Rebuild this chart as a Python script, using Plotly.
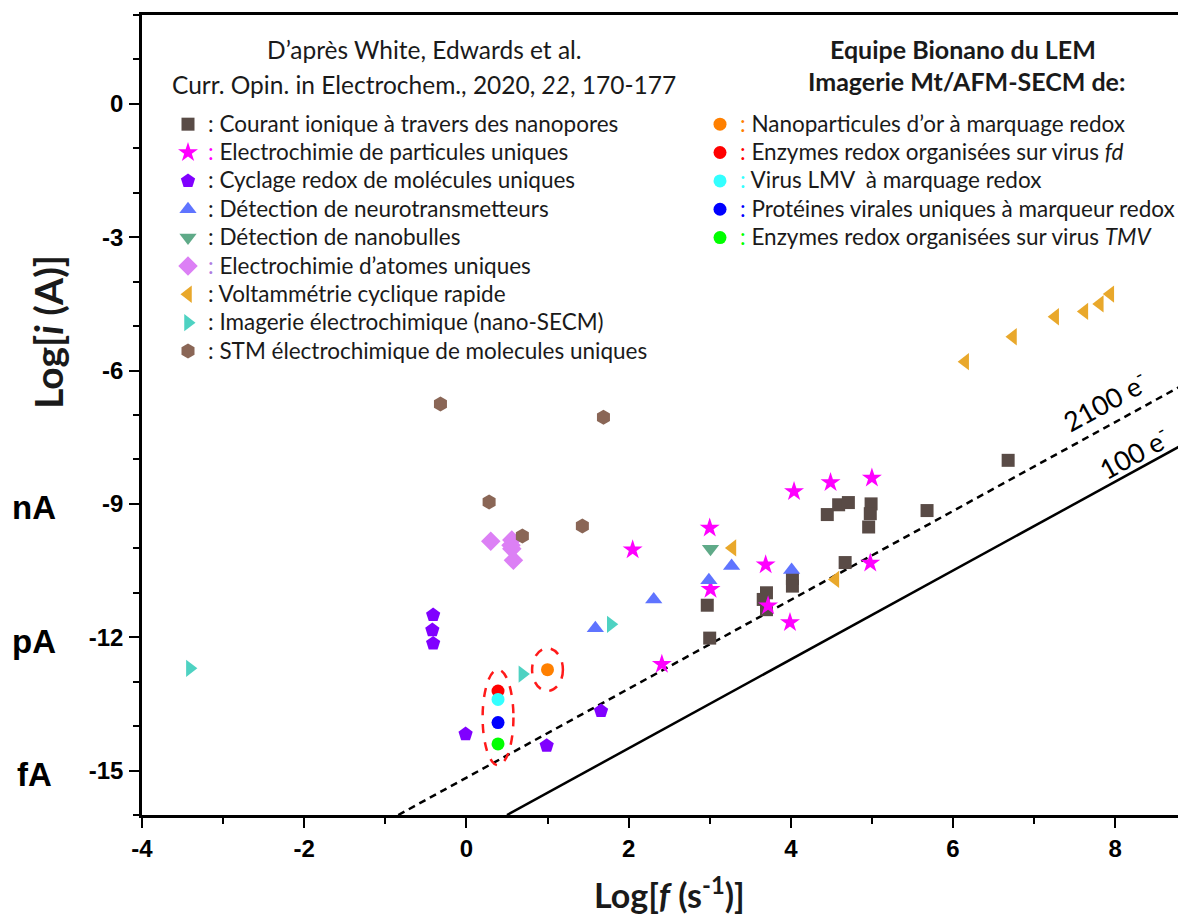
import plotly.graph_objects as go

# Données : x = Log[f (s-1)], y = Log[i (A)]
nanopores_x = [2.97, 3.00, 3.66, 3.70, 3.70, 4.02, 4.02, 4.45, 4.59, 4.71, 4.99, 4.98, 4.96, 4.67, 5.68, 6.68]
nanopores_y = [-11.28, -12.02, -11.15, -11.00, -11.38, -10.68, -10.85, -9.24, -9.02, -8.97, -9.00, -9.22, -9.52, -10.32, -9.15, -8.02]

particules_x = [2.05, 3.00, 3.01, 2.41, 3.69, 3.72, 3.99, 4.04, 4.49, 5.00, 4.98]
particules_y = [-10.03, -9.54, -10.92, -12.61, -10.37, -11.29, -11.67, -8.72, -8.52, -8.42, -10.33]

cyclage_x = [-0.41, -0.42, -0.41, -0.01, 0.99, 1.66]
cyclage_y = [-11.50, -11.84, -12.14, -14.18, -14.44, -13.66]

neuro_x = [1.59, 2.31, 2.99, 3.27, 4.01]
neuro_y = [-11.80, -11.15, -10.72, -10.40, -10.49]

nanobulles_x = [3.01]
nanobulles_y = [-10.01]

atomes_x = [0.30, 0.56, 0.55, 0.56, 0.58]
atomes_y = [-9.84, -9.81, -9.93, -10.01, -10.27]

voltam_x = [3.28, 4.55, 6.15, 6.74, 7.26, 7.62, 7.81, 7.94]
voltam_y = [-9.99, -10.70, -5.80, -5.24, -4.79, -4.67, -4.50, -4.28]

secm_x = [-3.41, 0.69, 1.78]
secm_y = [-12.70, -12.83, -11.71]

stm_x = [-0.32, 0.28, 0.69, 1.69, 1.43]
stm_y = [-6.75, -8.96, -9.72, -7.05, -9.50]

# Equipe Bionano du LEM
or_x, or_y = [1.00], [-12.73]
fd_x, fd_y = [0.39], [-13.21]
lmv_x, lmv_y = [0.39], [-13.40]
prot_x, prot_y = [0.39], [-13.92]
tmv_x, tmv_y = [0.39], [-14.40]

# droites i = n.e.f (ordonnées à l'origine)
droites_nom = ["2100 e<sup>-</sup>", "100 e<sup>-</sup>"]
droites_b = [-15.16, -16.50]

# graduations
x_ticks = [-4, -2, 0, 2, 4, 6, 8]
x_labels = ["-4", "-2", "0", "2", "4", "6", "8"]
y_ticks = [0, -3, -6, -9, -12, -15]
y_labels = ["0", "-3", "-6", "-9", "-12", "-15"]
unites = ["nA", "pA", "fA"]
unites_y = [-9, -12, -15]

X_RANGE = [-4, 8.873]
Y_RANGE = [-16, 2]

TXT = "#1a1a1a"
FONT_TXT = "Lato"

# la page html ajoute 8 px de marge : on les retire de la figure
OFF = 8
L, T, B = 142 - OFF, 15 - OFF, 104


def px_x(p):
    return (p - 142) / 1044


def px_y(p):
    return (815 - p) / 800


fig = go.Figure()

# droites
for nom, b, dash in zip(droites_nom, droites_b, ["7px,5px", "solid"]):
    x0 = Y_RANGE[0] - b
    fig.add_trace(go.Scatter(
        x=[x0, X_RANGE[1]], y=[x0 + b, X_RANGE[1] + b],
        mode="lines", line=dict(color="black", width=2.5, dash=dash),
        showlegend=False, hoverinfo="skip"))


def entry(c, txt):
    return ('<span style="font-size:22.5px"><span style="color:%s">:</span> %s</span>' % (c, txt))


white_series = [
    (nanopores_x, nanopores_y, "square", "#594b46", 13, TXT, "Courant ionique à travers des nanopores"),
    (particules_x, particules_y, "star", "#ff00ff", 15, "#ff00ff", "Electrochimie de particules uniques"),
    (cyclage_x, cyclage_y, "pentagon", "#8000ff", 15, TXT, "Cyclage redox de molécules uniques"),
    (neuro_x, neuro_y, "triangle-up", "#5f74ff", 15, TXT, "Détection de neurotransmetteurs"),
    (nanobulles_x, nanobulles_y, "triangle-down", "#5faa88", 15, TXT, "Détection de nanobulles"),
    (atomes_x, atomes_y, "diamond", "#dc80f5", 15, "#b07ddf", "Electrochimie d’atomes uniques"),
    (voltam_x, voltam_y, "triangle-left", "#e9a82b", 15, TXT, "Voltammétrie cyclique rapide"),
    (secm_x, secm_y, "triangle-right", "#4ed2c2", 15, TXT, "Imagerie électrochimique (nano-SECM)"),
    (stm_x, stm_y, "hexagon", "#8a6656", 15, TXT, "STM électrochimique de molecules uniques"),
]
for i, (x, y, sym, col, size, ccol, nom) in enumerate(white_series):
    fig.add_trace(go.Scatter(
        x=x, y=y, mode="markers", name=entry(ccol, nom), legend="legend", legendgroup="w%d" % i,
        marker=dict(symbol=sym, color=col, size=size, line=dict(width=0))))

lem_series = [
    (or_x, or_y, "#ff8000", "Nanoparticules d’or à marquage redox"),
    (fd_x, fd_y, "#ff0000", "Enzymes redox organisées sur virus <i>fd</i>"),
    (lmv_x, lmv_y, "#33ffff", "Virus LMV  à marquage redox"),
    (prot_x, prot_y, "#0000ff", "Protéines virales uniques à marqueur redox"),
    (tmv_x, tmv_y, "#00ff00", "Enzymes redox organisées sur virus <i>TMV</i>"),
]
for i, (x, y, col, nom) in enumerate(lem_series):
    fig.add_trace(go.Scatter(
        x=x, y=y, mode="markers", name=entry(col, nom), legend="legend2", legendgroup="l%d" % i,
        marker=dict(symbol="circle", color=col, size=13, line=dict(width=0))))

# ellipses rouges autour des mesures du LEM
PAD_X, PAD_Y = 0.19, 0.48
for xs, ys in [(or_x, or_y), (fd_x + lmv_x + prot_x + tmv_x, fd_y + lmv_y + prot_y + tmv_y)]:
    fig.add_shape(type="circle", xref="x", yref="y",
                  x0=min(xs) - PAD_X, x1=max(xs) + PAD_X, y0=min(ys) - PAD_Y, y1=max(ys) + PAD_Y,
                  line=dict(color="#ff1a1a", width=2.5, dash="dash"))

ann = []
# étiquettes des droites
for nom, b, xl, dy in zip(droites_nom, droites_b, [7.87, 8.22], [28, 20]):
    ann.append(dict(x=xl, y=xl + b, xref="x", yref="y", text=nom, showarrow=False,
                    xanchor="center", yanchor="middle",
                    textangle=-28.7, yshift=dy, font=dict(family=FONT_TXT, size=27, color="black")))


def texte(xp, yp, txt, size, **kw):
    d = dict(x=px_x(xp), y=px_y(yp), xref="paper", yref="paper", text=txt, showarrow=False,
             xanchor="center", yanchor="middle", font=dict(family=FONT_TXT, size=size, color=TXT))
    d.update(kw)
    return d


# en-têtes
ann.append(texte(424, 50, "D’après White, Edwards et al.", 24.5))
ann.append(texte(424, 84, "Curr. Opin. in Electrochem., 2020, <i>22</i>, 170-177", 24.5))
ann.append(texte(963, 49, "<b>Equipe Bionano du LEM</b>", 25))
ann.append(texte(966, 81, "<b>Imagerie Mt/AFM-SECM de:</b>", 25))

# titres des axes
ann.append(texte(48, 332, "<b>Log[<i>i</i> (A)]</b>", 39, textangle=-90))
ann.append(texte(669, 893, "<b>Log[<i>f</i> (s<sup>-1</sup>)]</b>", 34))

# unités
for lab, yv in zip(unites, unites_y):
    ann.append(dict(x=px_x(34), y=yv, xref="paper", yref="y", text="<b>%s</b>" % lab,
                    showarrow=False, yshift=-4, xanchor="center", yanchor="middle",
                    font=dict(family="Liberation Sans", size=33, color="black")))

axis_common = dict(
    showgrid=False, zeroline=False, showline=True, linecolor="black", linewidth=2.5,
    ticks="outside", ticklen=10, tickwidth=2, tickcolor="black",
    tickfont=dict(family="Liberation Sans", size=24, color="black", weight="bold"),
)

fig.update_layout(
    width=1186 - OFF, height=919 - OFF,
    margin=dict(l=L, r=0, t=T, b=B),
    plot_bgcolor="white", paper_bgcolor="white",
    xaxis=dict(range=X_RANGE, tickmode="array", tickvals=x_ticks, ticktext=x_labels, mirror=True,
               ticklabelstandoff=0,
               minor=dict(dtick=1, tick0=0, ticks="outside", ticklen=6, tickwidth=2, tickcolor="black"),
               **axis_common),
    yaxis=dict(range=Y_RANGE, tickmode="array", tickvals=y_ticks, ticktext=y_labels,
               ticklabelstandoff=1,
               minor=dict(dtick=1, tick0=0, ticks="outside", ticklen=6, tickwidth=2, tickcolor="black"),
               **axis_common),
    legend=dict(x=px_x(168), y=px_y(105), xanchor="left", yanchor="top",
                bgcolor="rgba(0,0,0,0)", tracegroupgap=0, itemwidth=30,
                font=dict(family=FONT_TXT, size=19.5, color=TXT)),
    legend2=dict(x=px_x(700), y=px_y(105), xanchor="left", yanchor="top",
                 bgcolor="rgba(0,0,0,0)", tracegroupgap=0, itemwidth=30,
                 font=dict(family=FONT_TXT, size=19.5, color=TXT)),
    annotations=ann,
    showlegend=True,
)

fig.write_html("out.html")
